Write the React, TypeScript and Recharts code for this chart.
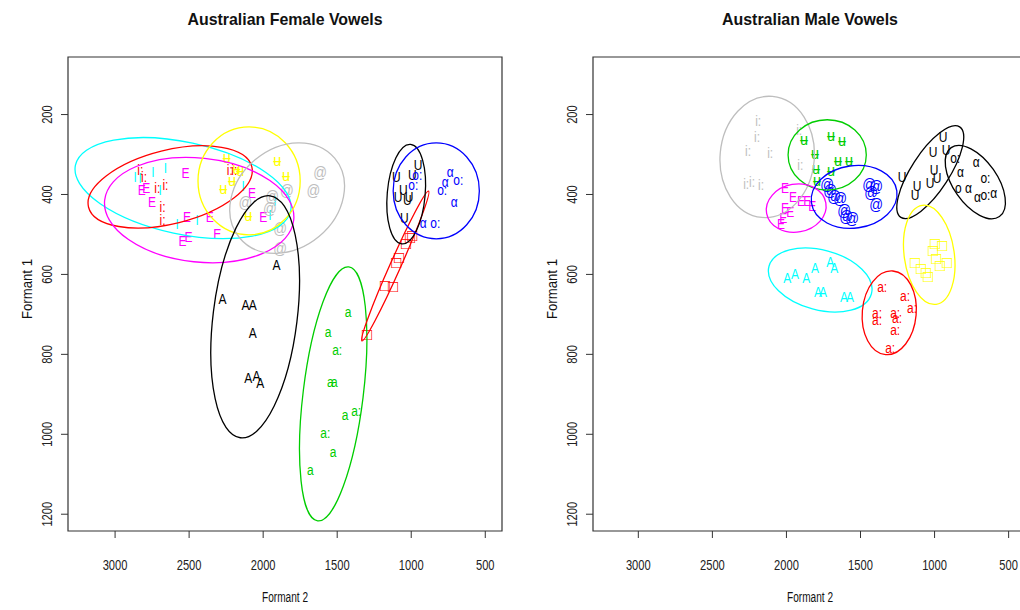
import { ScatterChart, Scatter, XAxis, YAxis, ReferenceArea } from "recharts";

// ---- data (Hz) ----
const F2_TICKS = [3000, 2500, 2000, 1500, 1000, 500];
const F1_TICKS = [200, 400, 600, 800, 1000, 1200];

// female tokens: [F2, F1] or [F2, F1, label]
const femaleI = [[2865, 356], [2830, 359], [2745, 344], [2660, 334], [2695, 389], [2580, 474], [2445, 464], [2135, 379], [1920, 416], [1955, 451]];
const femaleIy = [[2830, 339], [2805, 356], [2715, 384], [2660, 376], [2680, 431], [2680, 464], [2225, 339], [2195, 339]];
const femaleE = [[2525, 346], [2790, 384], [2750, 419], [2515, 456], [2360, 456], [2310, 499], [2505, 506], [2545, 516], [2075, 396], [2000, 456], [2820, 389]];
const femaleUu = [[2245, 306], [2155, 339], [2210, 364], [2270, 384], [1905, 314], [1845, 351], [2100, 451], [2180, 334]];
const femaleSchwa = [[1615, 344], [1660, 389], [1840, 389], [1940, 406], [2120, 421], [1955, 434], [1885, 484], [1885, 536]];
const femaleA = [[1910, 576], [2275, 661], [2120, 676], [2070, 676], [2070, 746], [2100, 859], [2045, 854], [2020, 871]];
const femaleAa = [[1426, 694, "a"], [1561, 744, "a"], [1500, 789, "a:"], [1547, 869, "a"], [1520, 869, "a"], [1446, 951, "a"], [1372, 941, "a:"], [1581, 996, "a:"], [1527, 1044, "a"], [1682, 1089, "a"]];
const femaleO = [[1297, 749], [1176, 626], [1122, 629], [1101, 569], [1081, 556], [1034, 521], [1007, 506], [993, 501]];
const femaleU = [[1101, 356], [1054, 389], [1088, 406], [1014, 406], [993, 351], [953, 326], [1047, 459], [1027, 414]];
const femaleOo = [[736, 344, "α"], [770, 369, "α"], [682, 364, "o:"], [791, 389, "o:"], [709, 419, "α"], [919, 471, "α"], [838, 471, "o:"], [986, 376, "o:"], [959, 351, "o:"]];

// male tokens
const maleIy = [[2191, 216], [2198, 256], [2259, 291], [2110, 296], [1907, 326], [1914, 239], [2272, 374], [2232, 369], [2171, 376]];
const maleUu = [[1882, 261], [1699, 251], [1624, 264], [1807, 296], [1652, 314], [1577, 314], [1801, 334], [1699, 339], [1794, 364]];
const maleE = [[2009, 384], [1955, 406], [1901, 416], [1860, 416], [2009, 434], [1975, 444], [1826, 429], [2022, 459], [2036, 474]];
const maleSchwa = [[1725, 376], [1678, 406], [1637, 411], [1610, 439], [1597, 456], [1556, 461], [1441, 376], [1394, 379], [1428, 394], [1394, 426], [1705, 389]];
const maleU = [[942, 256], [922, 289], [1010, 294], [1003, 339], [983, 359], [1219, 356], [1118, 379], [1030, 371], [1131, 401]];
const maleOo = [[861, 309, "o:"], [719, 319, "α"], [826, 344, "α"], [657, 359, "o:"], [840, 384, "o"], [772, 384, "α"], [711, 406, "α"], [657, 401, "o:"], [600, 396, "α"]];
const maleO = [[1131, 569], [1090, 584], [1057, 594], [1043, 604], [1009, 539], [988, 559], [948, 526], [962, 576], [915, 569], [996, 521]];
const maleA = [[1995, 609], [1942, 599], [1867, 609], [1807, 584], [1705, 569], [1678, 584], [1787, 644], [1754, 644], [1612, 656], [1571, 656]];
const maleAa = [[1354, 631], [1199, 654], [1152, 684], [1388, 696], [1266, 696], [1388, 714], [1253, 709], [1266, 739], [1300, 784]];

// ellipses: centre (F2, F1), radii in Hz along F2 / F1, tilt in degrees
const femaleEllipses = [
  { v: "I", f2: 2541, f1: 384, r2: 743, r1: 115, tilt: 12 },
  { v: "i:", f2: 2628, f1: 381, r2: 568, r1: 92, tilt: -14 },
  { v: "E", f2: 2432, f1: 439, r2: 642, r1: 130, tilt: 6 },
  { v: "u:", f2: 2095, f1: 366, r2: 345, r1: 135, tilt: 0 },
  { v: "@", f2: 1838, f1: 409, r2: 419, r1: 125, tilt: -40 },
  { v: "A", f2: 2054, f1: 706, r2: 284, r1: 305, tilt: 7 },
  { v: "a:", f2: 1527, f1: 899, r2: 203, r1: 320, tilt: 7 },
  { v: "O", f2: 1108, f1: 579, r2: 36, r1: 205, tilt: 24 },
  { v: "U", f2: 1034, f1: 399, r2: 128, r1: 125, tilt: 5 },
  { v: "o:", f2: 831, f1: 391, r2: 291, r1: 120, tilt: 0 },
];
const maleEllipses = [
  { v: "i:", f2: 2130, f1: 306, r2: 318, r1: 152, tilt: 5 },
  { v: "u:", f2: 1725, f1: 301, r2: 264, r1: 88, tilt: 0 },
  { v: "E", f2: 1934, f1: 434, r2: 203, r1: 60, tilt: -10 },
  { v: "@", f2: 1543, f1: 406, r2: 291, r1: 78, tilt: -8 },
  { v: "U", f2: 1029, f1: 344, r2: 128, r1: 135, tilt: 33 },
  { v: "o:", f2: 725, f1: 369, r2: 284, r1: 55, tilt: 55 },
  { v: "O", f2: 1036, f1: 551, r2: 169, r1: 125, tilt: -8 },
  { v: "A", f2: 1772, f1: 614, r2: 358, r1: 75, tilt: 15 },
  { v: "a:", f2: 1306, f1: 696, r2: 182, r1: 105, tilt: 5 },
];

// ---- styles ----
const C = {
  black: "#000000", red: "#FF0000", green: "#00CD00", blue: "#0000FF",
  cyan: "#00FFFF", magenta: "#FF00FF", yellow: "#FFFF00", gray: "#BEBEBE",
};
const FONT = "'Liberation Sans', Arial, Helvetica, sans-serif";

// glyph size tweaks (font size, horizontal squeeze)
const GLYPH_SIZE: Record<string, [number, number]> = {
  "□": [17, 1],
  "ʉ": [17, 0.85],
  "@": [16, 0.85],
};

const femaleGroups = [
  { v: "I", glyph: "I", rows: femaleI, color: C.cyan },
  { v: "i:", glyph: "i:", rows: femaleIy, color: C.red },
  { v: "E", glyph: "E", rows: femaleE, color: C.magenta },
  { v: "u:", glyph: "ʉ", rows: femaleUu, color: C.yellow },
  { v: "@", glyph: "@", rows: femaleSchwa, color: C.gray },
  { v: "A", glyph: "A", rows: femaleA, color: C.black },
  { v: "a:", glyph: "a", rows: femaleAa, color: C.green },
  { v: "O", glyph: "□", rows: femaleO, color: C.red },
  { v: "U", glyph: "U", rows: femaleU, color: C.black },
  { v: "o:", glyph: "o:", rows: femaleOo, color: C.blue },
];
const maleGroups = [
  { v: "i:", glyph: "i:", rows: maleIy, color: C.gray },
  { v: "u:", glyph: "ʉ", rows: maleUu, color: C.green },
  { v: "E", glyph: "E", rows: maleE, color: C.magenta },
  { v: "@", glyph: "@", rows: maleSchwa, color: C.blue },
  { v: "U", glyph: "U", rows: maleU, color: C.black },
  { v: "o:", glyph: "o:", rows: maleOo, color: C.black },
  { v: "O", glyph: "□", rows: maleO, color: C.yellow },
  { v: "A", glyph: "A", rows: maleA, color: C.cyan },
  { v: "a:", glyph: "a:", rows: maleAa, color: C.red },
];

const CHART_W = 510;
const CHART_H = 610;
const Y_W = 68;
const X_H = 79;
const TOP = 57;
const PLOT_W = 434;
const PLOT_H = CHART_H - TOP - X_H;
const Y_DOMAIN = [56, 1242];

function digitsTick(props: any, rotate: boolean) {
  const { x, y, payload } = props;
  const s = String(payload.value);
  const len = s.length * 6.2;
  if (rotate) {
    const cx = x - 14;
    return (
      <text x={cx} y={y} dy="0.36em" textAnchor="middle" fontSize={14} fontFamily={FONT} fill="#222"
        textLength={len} lengthAdjust="spacingAndGlyphs" transform={`rotate(-90 ${cx} ${y})`}>
        {s}
      </text>
    );
  }
  return (
    <text x={x} y={y + 32} textAnchor="middle" fontSize={14} fontFamily={FONT} fill="#222"
      textLength={len} lengthAdjust="spacingAndGlyphs">
      {s}
    </text>
  );
}

function PanelText(props: any) {
  const vb = props.viewBox || { x: Y_W, y: TOP, width: PLOT_W, height: PLOT_H };
  const mid = vb.x + vb.width / 2;
  const ly = vb.y + vb.height / 2 - 5;
  const lx = vb.x - 41;
  return (
    <g fontFamily={FONT} fill="#111">
      <text x={mid} y={25} textAnchor="middle" fontSize={17} fontWeight="bold"
        textLength={props.titleLen} lengthAdjust="spacingAndGlyphs">
        {props.title}
      </text>
      <text x={mid} y={602} textAnchor="middle" fontSize={14} textLength={46} lengthAdjust="spacingAndGlyphs">
        Formant 2
      </text>
      <text x={lx} y={ly} dy="0.36em" textAnchor="middle" fontSize={14} textLength={60}
        lengthAdjust="spacingAndGlyphs" transform={`rotate(-90 ${lx} ${ly})`}>
        Formant 1
      </text>
    </g>
  );
}

function Panel({ title, titleLen, xDomain, groups, ellipses }: any) {
  const sx = PLOT_W / (xDomain[1] - xDomain[0]);
  const sy = PLOT_H / (Y_DOMAIN[1] - Y_DOMAIN[0]);
  const colorOf: Record<string, string> = {};
  groups.forEach((g: any) => (colorOf[g.v] = g.color));

  return (
    <ScatterChart width={CHART_W} height={CHART_H} margin={{ top: TOP, right: CHART_W - Y_W - PLOT_W, bottom: 0, left: 0 }}>
      <XAxis type="number" dataKey="f2" domain={xDomain} reversed allowDataOverflow ticks={F2_TICKS} interval={0}
        height={X_H} tickSize={7} tickMargin={0} axisLine={false} tickLine={{ stroke: "#333" }}
        tick={(p: any) => digitsTick(p, false)} />
      <YAxis type="number" dataKey="f1" domain={Y_DOMAIN} reversed allowDataOverflow ticks={F1_TICKS} interval={0}
        width={Y_W} tickSize={7} tickMargin={0} axisLine={false} tickLine={{ stroke: "#333" }}
        tick={(p: any) => digitsTick(p, true)} />
      {groups.map((g: any) => {
        const [fs, sq] = GLYPH_SIZE[g.glyph] || [15, 0.8];
        return (
          <Scatter key={g.v + g.color} isAnimationActive={false}
            data={g.rows.map((r: any[]) => ({ f2: r[0], f1: r[1], label: r[2] || g.glyph }))}
            shape={(p: any) => (
              <text transform={`translate(${p.cx},${p.cy}) scale(${sq},1)`} textAnchor="middle"
                dy="0.34em" fontSize={fs} fontFamily={FONT} fill={g.color}>
                {p.payload.label}
              </text>
            )} />
        );
      })}
      <Scatter isAnimationActive={false} data={ellipses}
        shape={(p: any) => (
          <ellipse cx={p.cx} cy={p.cy} rx={p.payload.r2 * sx} ry={p.payload.r1 * sy}
            transform={`rotate(${p.payload.tilt} ${p.cx} ${p.cy})`}
            fill="none" stroke={colorOf[p.payload.v]} strokeWidth={1.3} />
        )} />
      <ReferenceArea x1={xDomain[0]} x2={xDomain[1]} y1={Y_DOMAIN[0]} y2={Y_DOMAIN[1]}
        fill="none" fillOpacity={0} stroke="#333" strokeWidth={1.2} ifOverflow="visible"
        label={<PanelText title={title} titleLen={titleLen} />} />
    </ScatterChart>
  );
}

export default function App() {
  return (
    <div style={{ position: "absolute", left: 0, top: 0, width: 1020, height: 610, overflow: "hidden", background: "#fff" }}>
      <div style={{ position: "absolute", left: 0, top: 0 }}>
        <Panel title="Australian Female Vowels" titleLen={195} xDomain={[387, 3318]}
          groups={femaleGroups} ellipses={femaleEllipses} />
      </div>
      <div style={{ position: "absolute", left: 525, top: 0 }}>
        <Panel title="Australian Male Vowels" titleLen={176} xDomain={[376, 3306]}
          groups={maleGroups} ellipses={maleEllipses} />
      </div>
    </div>
  );
}
